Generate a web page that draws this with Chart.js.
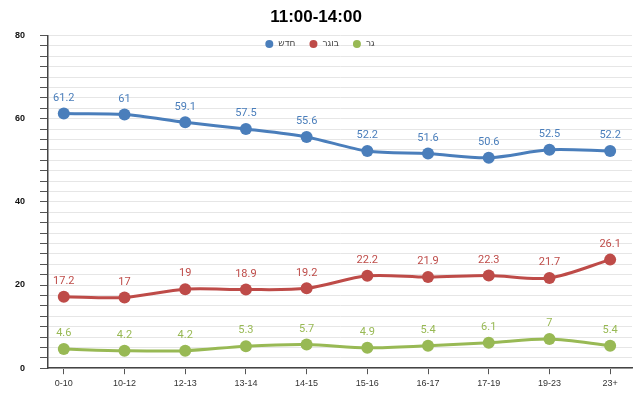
<!DOCTYPE html>
<html>
<head>
<meta charset="utf-8">
<script src="https://cdn.jsdelivr.net/npm/chart.js@4"></script>
<style>
  html, body { margin: 0; padding: 0; background: #fff; }
  #wrap { width: 640px; height: 395px; }
</style>
</head>
<body>
<div id="wrap"><canvas id="myChart" width="640" height="395"></canvas></div>
<script>
// data
const xlabels = ['0-10', '10-12', '12-13', '13-14', '14-15', '15-16', '16-17', '17-19', '19-23', '23+'];
const seriesNames = ['חדש', 'בוגר', 'גר'];
const blueVals = [61.2, 61, 59.1, 57.5, 55.6, 52.2, 51.6, 50.6, 52.5, 52.2];
const redVals = [17.2, 17, 19, 18.9, 19.2, 22.2, 21.9, 22.3, 21.7, 26.1];
const greenVals = [4.6, 4.2, 4.2, 5.3, 5.7, 4.9, 5.4, 6.1, 7, 5.4];
const yLabels = [0, 20, 40, 60, 80];

const colors = ['#4a7ebb', '#be4b48', '#98b954'];

function toPoints(vals){
  return vals.map((v, i) => ({x: i, y: v}));
}

// value labels above each point
const valueLabels = {
  id: 'valueLabels',
  afterDatasetsDraw(chart){
    const ctx = chart.ctx;
    ctx.save();
    ctx.font = '11px Roboto, "Liberation Sans", sans-serif';
    ctx.textAlign = 'center';
    ctx.textBaseline = 'bottom';
    chart.data.datasets.forEach((ds, di) => {
      const meta = chart.getDatasetMeta(di);
      ctx.fillStyle = ds.borderColor;
      meta.data.forEach((pt, i) => {
        ctx.fillText(String(ds.data[i].y), pt.x, pt.y - 10);
      });
    });
    ctx.restore();
  }
};

// small legend floating at the top of the plot
const topLegend = {
  id: 'topLegend',
  afterDraw(chart){
    const ctx = chart.ctx;
    const cy = 44;
    ctx.save();
    ctx.font = '9px "DejaVu Sans", sans-serif';
    ctx.textBaseline = 'middle';
    ctx.textAlign = 'left';
    const items = chart.data.datasets.map(ds => ({
      text: ds.label, color: ds.borderColor, w: ctx.measureText(ds.label).width
    }));
    const gap = 14, dot = 4;
    let total = 0;
    items.forEach((it, i) => { total += dot * 2 + 5 + it.w + (i < items.length - 1 ? gap : 0); });
    let x = 320 - total / 2;
    items.forEach(it => {
      ctx.fillStyle = it.color;
      ctx.beginPath();
      ctx.arc(x + dot, cy, dot, 0, Math.PI * 2);
      ctx.fill();
      ctx.fillStyle = '#444';
      ctx.fillText(it.text, x + dot * 2 + 5, cy);
      x += dot * 2 + 5 + it.w + gap;
    });
    ctx.restore();
  }
};

const CHART = document.getElementById('myChart');
const myChart = new Chart(CHART, {
  type: 'line',
  data: {
    datasets: [0, 1, 2].map(k => ({
      label: seriesNames[k],
      data: toPoints([blueVals, redVals, greenVals][k]),
      borderColor: colors[k],
      backgroundColor: colors[k],
      borderWidth: 3,
      pointRadius: 6,
      pointHoverRadius: 6,
      pointBorderWidth: 0,
      tension: 0.3,
      fill: false
    }))
  },
  options: {
    responsive: false,
    maintainAspectRatio: false,
    animation: false,
    layout: { padding: { left: 0, right: 8, top: 0, bottom: 2 } },
    scales: {
      x: {
        type: 'linear',
        min: -0.26,
        max: 9.36,
        afterBuildTicks(scale){
          scale.ticks = xlabels.map((_, i) => ({value: i}));
        },
        ticks: {
          callback: (v) => xlabels[v],
          color: '#333',
          font: { family: 'Arial, "Liberation Sans", sans-serif', size: 9 },
          padding: 4,
          maxRotation: 0,
          autoSkip: false
        },
        grid: {
          drawOnChartArea: false,
          tickLength: 6,
          tickColor: '#555'
        },
        border: { color: '#444', width: 1.5 }
      },
      y: {
        min: 0,
        max: 80,
        ticks: {
          stepSize: 2.5,
          autoSkip: false,
          callback: (v) => yLabels.includes(v) ? v : '',
          color: '#111',
          font: { family: 'Arial, "Liberation Sans", sans-serif', size: 9, weight: 'bold' },
          padding: 15
        },
        grid: {
          color: '#e6e6e6',
          tickLength: 8,
          tickColor: '#555'
        },
        border: { color: '#444', width: 1.5 }
      }
    },
    plugins: {
      title: {
        display: true,
        text: '11:00-14:00',
        color: '#000',
        font: { family: 'Arial, "Liberation Sans", sans-serif', size: 17, weight: 'bold' },
        padding: { top: 7, bottom: 8 }
      },
      legend: { display: false },
      tooltip: { enabled: false }
    }
  },
  plugins: [valueLabels, topLegend]
});
</script>
</body>
</html>
